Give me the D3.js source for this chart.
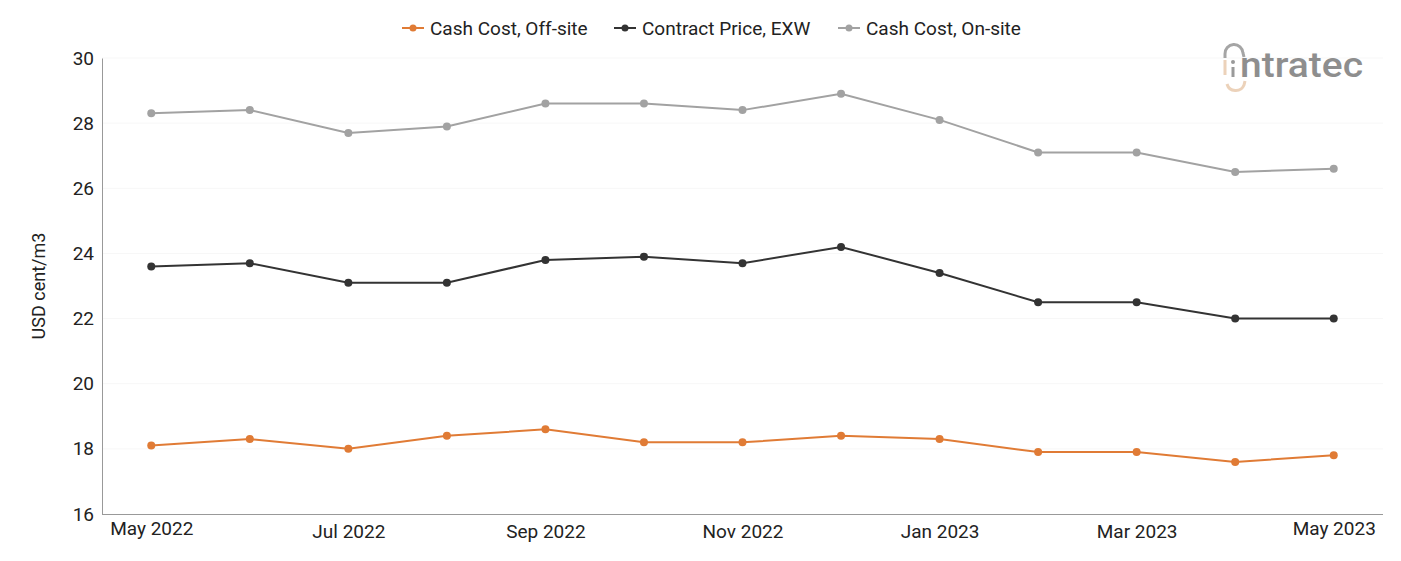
<!doctype html>
<html lang="en">
<head>
<meta charset="utf-8">
<title>Cash cost chart</title>
<script src="https://cdn.jsdelivr.net/npm/d3@7"></script>
<style>
  body { margin: 0; background: #fff; }
  text { font-family: Roboto, "Noto Sans", sans-serif; fill: #222; }
</style>
</head>
<body>
<div id="chart"></div>
<script>
var months = ["May 2022", "Jun 2022", "Jul 2022", "Aug 2022", "Sep 2022", "Oct 2022", "Nov 2022",
              "Dec 2022", "Jan 2023", "Feb 2023", "Mar 2023", "Apr 2023", "May 2023"];
var offSite = [18.1, 18.3, 18.0, 18.4, 18.6, 18.2, 18.2, 18.4, 18.3, 17.9, 17.9, 17.6, 17.8];
var contractExw = [23.6, 23.7, 23.1, 23.1, 23.8, 23.9, 23.7, 24.2, 23.4, 22.5, 22.5, 22.0, 22.0];
var onSite = [28.3, 28.4, 27.7, 27.9, 28.6, 28.6, 28.4, 28.9, 28.1, 27.1, 27.1, 26.5, 26.6];
var yTicks = [16, 18, 20, 22, 24, 26, 28, 30];

var series = [
  { name: "Cash Cost, Off-site", values: offSite, color: "#e07b35" },
  { name: "Contract Price, EXW", values: contractExw, color: "#333333" },
  { name: "Cash Cost, On-site", values: onSite, color: "#a2a2a2" }
];

var width = 1401, height = 561;
var margin = { top: 58, right: 18, bottom: 47, left: 102 };

var svg = d3.select("#chart").append("svg")
  .attr("width", width).attr("height", height);

var x = d3.scalePoint().domain(months)
  .range([margin.left, width - margin.right]).padding(0.5);
var y = d3.scaleLinear().domain([16, 30])
  .range([height - margin.bottom, margin.top]);

// grid
svg.append("g").selectAll("line").data(yTicks.slice(1)).enter().append("line")
  .attr("x1", margin.left).attr("x2", width - margin.right)
  .attr("y1", function (d) { return y(d); }).attr("y2", function (d) { return y(d); })
  .attr("stroke", "#f7f7f7").attr("stroke-width", 1);

// y axis
var yAxis = svg.append("g").attr("transform", "translate(" + margin.left + ",0)")
  .call(d3.axisLeft(y).tickValues(yTicks).tickSize(0).tickPadding(8));
yAxis.select(".domain").attr("stroke", "#999");
yAxis.selectAll("text").style("font-size", "19px").attr("fill", "#222");

// x axis
var xAxis = svg.append("g").attr("transform", "translate(0," + (height - margin.bottom) + ")")
  .call(d3.axisBottom(x).tickSize(0).tickPadding(11)
    .tickFormat(function (d, i) { return i % 2 === 0 ? d : ""; }));
xAxis.select(".domain").attr("stroke", "#999")
  .attr("d", "M" + margin.left + ",0.5H" + (width - margin.right));
xAxis.selectAll("text").style("font-size", "19px").attr("fill", "#222")
  .attr("dy", function (d, i) { return (i === 0 || i === months.length - 1) ? "0.5em" : "0.66em"; });

// y title
svg.append("text")
  .attr("transform", "translate(45," + ((margin.top + height - margin.bottom) / 2) + ") rotate(-90)")
  .attr("text-anchor", "middle").style("font-size", "18px")
  .text("USD cent/m3");

// lines
var line = d3.line()
  .x(function (d, i) { return x(months[i]); })
  .y(function (d) { return y(d); });

series.forEach(function (s) {
  svg.append("path").datum(s.values)
    .attr("fill", "none").attr("stroke", s.color).attr("stroke-width", 2)
    .attr("d", line);
  svg.append("g").selectAll("circle").data(s.values).enter().append("circle")
    .attr("cx", function (d, i) { return x(months[i]); })
    .attr("cy", function (d) { return y(d); })
    .attr("r", 4).attr("fill", s.color);
});

// legend
var legendX = [402, 614, 838];
var legend = svg.append("g");
series.forEach(function (s, i) {
  var g = legend.append("g").attr("transform", "translate(" + legendX[i] + ",28)");
  g.append("line").attr("x1", 0).attr("x2", 22).attr("stroke", s.color).attr("stroke-width", 2);
  g.append("circle").attr("cx", 11).attr("r", 3.5).attr("fill", s.color);
  g.append("text").attr("x", 28).attr("dy", "0.35em").style("font-size", "19px").text(s.name);
});

// logo
var logo = svg.append("g").attr("transform", "translate(1215,40)");
logo.append("path").attr("d", "M10,18 V14 A9,9 0 0 1 28,13 L29,17")
  .attr("fill", "none").attr("stroke", "#a5a5a5").attr("stroke-width", 3);
logo.append("path").attr("d", "M10,20 V35 M12,44 A9,9 0 0 0 29,45 L30,41")
  .attr("fill", "none").attr("stroke", "#ecd2ba").attr("stroke-width", 3);
logo.append("rect").attr("x", 16.5).attr("y", 27).attr("width", 3).attr("height", 10).attr("fill", "#9a9a9a");
logo.append("circle").attr("cx", 18).attr("cy", 22).attr("r", 2).attr("fill", "#9a9a9a");
logo.append("text").attr("x", 25).attr("y", 37)
  .attr("textLength", 123).attr("lengthAdjust", "spacingAndGlyphs")
  .style("font-size", "35px").style("font-weight", "500")
  .style("fill", "#8e8e8e").text("ntratec");
</script>
</body>
</html>
